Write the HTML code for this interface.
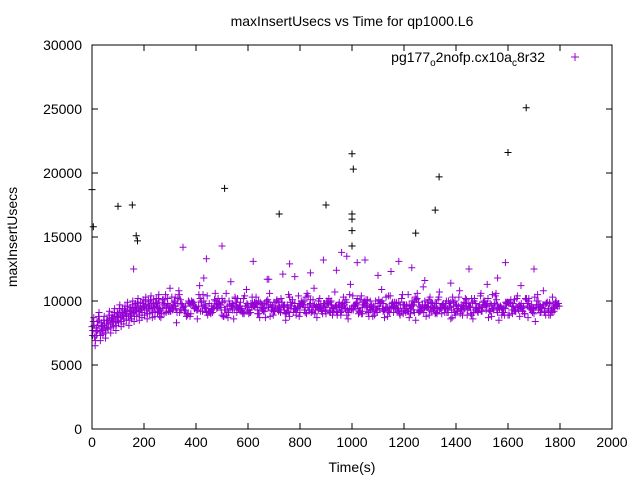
<!DOCTYPE html>
<html><head><meta charset="utf-8"><style>
body{margin:0;background:#fff;}
svg{display:block;font-family:"Liberation Sans",sans-serif;}
</style></head><body>
<svg id="chart" width="640" height="480" viewBox="0 0 640 480">
<rect width="640" height="480" fill="#fff"/>
<text x="352" y="26" font-size="14" text-anchor="middle">maxInsertUsecs vs Time for qp1000.L6</text>
<text transform="translate(17,237) rotate(-90)" font-size="14" text-anchor="middle">maxInsertUsecs</text>
<text x="352" y="472" font-size="14" text-anchor="middle">Time(s)</text>
<g id="axes"></g>
<g id="marks"></g>
<g>
<text x="545" y="62" font-size="14" text-anchor="end">pg177<tspan font-size="10" dy="4">o</tspan><tspan dy="-4">2nofp.cx10a</tspan><tspan font-size="10" dy="4">c</tspan><tspan dy="-4">8r32</tspan></text>
<path d="M571 57h8M575 53v8" stroke="#9400d3" stroke-width="1"/>
</g>
<rect x="92" y="45" width="520" height="384" fill="none" stroke="#000" stroke-width="1"/>
</svg>
<script>
const xTicks=[0,200,400,600,800,1000,1200,1400,1600,1800,2000];
const yTicks=[0,5000,10000,15000,20000,25000,30000];
const rampTimes=[0,10,20,30,40,50,60,70,80,90,100,110,120,130,140,150,160,170,180,190,200,210,220,230,240,250];
const rampValues=[8000,7200,8400,7600,8100,7800,8500,8200,8700,8400,9000,8700,8900,9200,8800,9300,9100,9500,9200,9400,9600,9300,9700,9400,9500,9800];
const bandA=[9400,9800,9200,9600,10100,9300,9700,9500,9900,9100,9600,9400,10200,9300,9800,9500,9000,9700,9600,10000,9200,9500,9900,9300,9700,10300,9400,9600,9100,9800,9500,9700,9300,10000,9600,9200,9900,9400,9700,9500,10100,9300,9600,9800,9200,9500,9900,9400,9700,9100,9600,10000,9300,9800,9500,9400,9900,9200,9700,9600,10200,9300,9500,9800,9400,9700,9100,9900,9600,9300,9500,10000,9400,9700,9200,9800,9600];
const bandB=[9000,9500,10300,9100,9700,8900,9900,9300,10500,9200,9400,9800,8800,10000,9300,9600,10400,9100,9500,9900,8700,9700,9400,10200,9000,9600,9300,9800,10600,9200,9500,9000,9900,9400,9700,10300,9100,9600,9200,10000,9500,8900,9800,9300,10400,9400,9700,9100,9600,10100,9300,9500,9900,9000,9700,9400,10300,9200,9600,9800,9100,9500,10000,9300,9700,9400,8900,9900,9200,9600,10200,9400,9500,9100,9800,9300,9700];
const bandC=[9700,9200,9600,10800,9300,9900,9400,11200,9500,9100,10600,9700,9300,11500,9600,9200,10900,9500,9800,9300,11700,9600,9400,12100,9500,9100,10400,9700,9300,11000,9600,9800,9200,10700,9500,9400,11300,9700,9200,10100,9600,9300,10900,9500,9800,9400,10500,9200,9700,9300,11100,9600,9400,10300,9500,9800,9100,10800,9400,9600,9300,10400,9700,9200,10600,9500,9800,9300,10200,9400,9600,9100,10500,9700,9300,9500,9800];
const outlierTimes=[0,5,100,155,170,175,510,720,900,1000,1005,1000,1000,1000,1000,1320,1335,1245,1600,1670,1700,1590,350,500,160,620,1450,960,980,1020,300,430,680,760,840,890,1050,1100,1180,1230,1280,1380,1520,1560,1650,440,780,940,1150];
const outlierValues=[18700,15800,17400,17500,15100,14700,18800,16800,17500,21500,20300,16800,16400,15500,14300,17100,19700,15300,21600,25100,12500,13000,14200,14300,12500,13100,12500,13800,13500,13000,11000,11800,11700,12900,12200,13200,13200,12000,13100,12600,11600,11400,11300,11800,11200,13300,11900,12400,12300];
const outlierBlack=[1,1,1,1,1,1,1,1,1,1,1,1,1,1,1,1,1,1,1,1,0,0,0,0,0,0,0,0,0,0,0,0,0,0,0,0,0,0,0,0,0,0,0,0,0,0,0,0,0];
const X0=92,X1=612,Y0=429,Y1=45;
function xs(t){return X0+(t-0)/2000*(X1-X0);}
function ys(v){return Y0-(v-0)/30000*(Y0-Y1);}
const NS="http://www.w3.org/2000/svg";
const axes=document.getElementById('axes'),marks=document.getElementById('marks');
xTicks.forEach(t=>{const x=xs(t);
const p=document.createElementNS(NS,'path');
p.setAttribute('d',`M${x} ${Y0}v-6M${x} ${Y1}v6`);p.setAttribute('stroke','#000');


axes.appendChild(p);
const l=document.createElementNS(NS,'text');l.setAttribute('x',x);l.setAttribute('y',Y0+18);l.setAttribute('font-size','14');l.setAttribute('text-anchor','middle');l.textContent=t;


axes.appendChild(l);});
yTicks.forEach(v=>{const y=ys(v);
const p=document.createElementNS(NS,'path');
p.setAttribute('d',`M${X0} ${y}h6M${X1} ${y}h-6`);p.setAttribute('stroke','#000');


axes.appendChild(p);
const l=document.createElementNS(NS,'text');l.setAttribute('x',X0-10);l.setAttribute('y',y+5);l.setAttribute('font-size','14');l.setAttribute('text-anchor','end');l.textContent=v;


axes.appendChild(l);});
function plus(t,v,c){const x=xs(t),y=ys(v);
const p=document.createElementNS(NS,'path');
p.setAttribute('d',`M${x-3.5} ${y}h7M${x} ${y-3.5}v7`);p.setAttribute('stroke',c);p.setAttribute('stroke-width','1');


marks.appendChild(p);}
const P='#9400d3';
rampTimes.forEach((t,i)=>{const v=rampValues[i];
plus(t,v,P);plus(t+5,v+400,P);plus(t+3,v-300,P);plus(t+7,v+700,P);plus(t+2,v-700,P);plus(t+8,v+100,P);});
bandA.forEach((v,i)=>plus(260+i*20,v,P));
bandB.forEach((v,i)=>plus(267+i*20,v,P));
bandC.forEach((v,i)=>plus(274+i*20,v,P));
bandA.forEach((v,i)=>plus(263+i*20,bandB[(i+7)%bandB.length],P));
bandC.forEach((v,i)=>plus(270+i*20,bandA[(i+11)%bandA.length],P));
bandB.forEach((v,i)=>plus(277+i*20,bandA[(i+23)%bandA.length]-300,P));
bandA.forEach((v,i)=>plus(256+i*20,bandB[(i+31)%bandB.length]+200,P));
bandB.forEach((v,i)=>plus(260+i*20,bandB[(i+41)%bandB.length]-100,P));
bandA.forEach((v,i)=>plus(271+i*20,bandA[(i+53)%bandA.length]+300,P));
bandB.forEach((v,i)=>plus(265+i*20,bandB[(i+17)%bandB.length]-400,P));
outlierTimes.forEach((t,i)=>plus(t,outlierValues[i],outlierBlack[i]?'#000':P));
</script>
</body></html>
